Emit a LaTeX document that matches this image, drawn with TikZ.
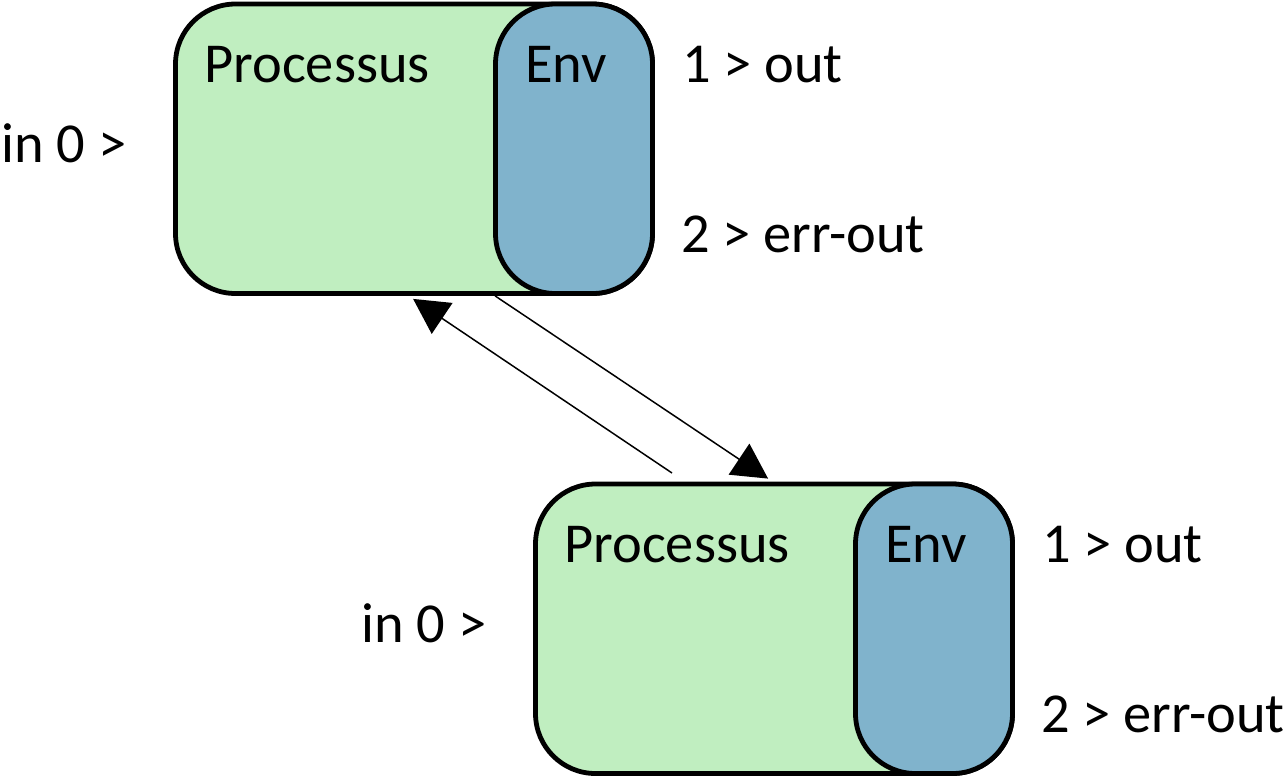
\documentclass[tikz,border=0pt]{standalone}
\usepackage{fontspec}
\setmainfont{Carlito}
\usetikzlibrary{arrows.meta}
\definecolor{procgreen}{RGB}{192,238,192}
\definecolor{envblue}{RGB}{128,179,204}
\tikzset{
  procbox/.style={draw=black, line width=2.4pt, fill=procgreen, rounded corners=30pt,
    minimum width=238.5pt, minimum height=144.75pt, inner sep=0pt},
  envbox/.style={draw=black, line width=2.4pt, fill=envblue, rounded corners=30pt,
    minimum width=78.5pt, minimum height=144.75pt, inner sep=0pt},
  lbl/.style={anchor=base west, inner sep=0pt, font=\fontsize{28.2}{34}\selectfont},
  conn/.style={line width=0.75pt, -{Triangle[length=17.5pt,width=18.5pt]}}
}
\begin{document}
\begin{tikzpicture}[x=0.5pt,y=-0.5pt]
\useasboundingbox (0,0) rectangle (1286,778);
% top process
\node[procbox] (p1) at (414,148.75) {};
\node[envbox] (e1) at (574,148.75) {};
\node[lbl] (t1) at (204,82) {Processus};
\node[lbl] (v1) at (525,82) {Env};
\node[lbl] (o1) at (682,82) {1 > out};
\node[lbl] (r1) at (681,252) {2 > err-out};
\node[lbl] (i1) at (1,162) {in 0 >};
% bottom process
\node[procbox] (p2) at (774,628.75) {};
\node[envbox] (e2) at (934,628.75) {};
\node[lbl] (t2) at (564,562) {Processus};
\node[lbl] (v2) at (885,562) {Env};
\node[lbl] (o2) at (1042,562) {1 > out};
\node[lbl] (r2) at (1041,732) {2 > err-out};
\node[lbl] (i2) at (361,642) {in 0 >};
% connectors
\coordinate (a1s) at (672,473);
\coordinate (a1e) at ([xshift=120pt,yshift=-1.5pt]p1.south west);
\coordinate (a2s) at ([xshift=161pt]p1.south west);
\coordinate (a2e) at ([xshift=117.5pt,yshift=1.5pt]p2.north west);
\draw[conn] (a1s) -- (a1e);
\draw[conn] (a2s) -- (a2e);
\end{tikzpicture}
\end{document}
